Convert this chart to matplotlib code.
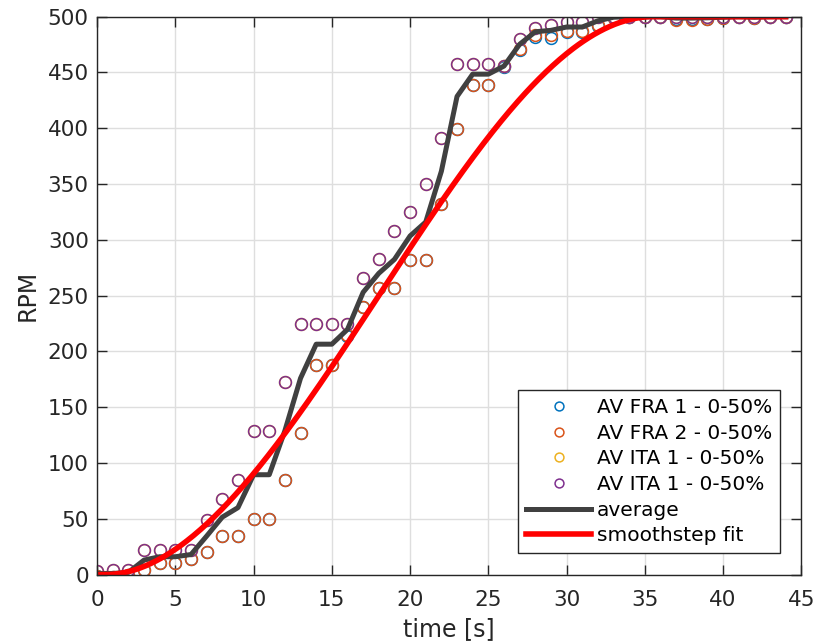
import numpy as np
import matplotlib
matplotlib.use('Agg')
import matplotlib.pyplot as plt

# tiempo en segundos
t = np.arange(0, 45)

# mediciones de RPM para cada ensayo
rpm_fra1 = [-1, -2, 0, 4, 10, 10, 14, 20, 35, 35, 50, 50, 85, 127, 188, 188, 214, 240, 257, 257,
            282, 282, 332, 399, 439, 439, 455, 470, 482, 481, 486, 486, 492, 499, 500, 500, 500, 498,
            498, 498, 499, 500, 499, 500, 500]
rpm_fra2 = [-1, -2, 0, 4, 10, 10, 14, 20, 35, 35, 50, 50, 85, 127, 188, 188, 215, 240, 257, 257,
            282, 282, 332, 399, 439, 439, 456, 471, 484, 484, 487, 487, 493, 499, 500, 500, 500, 497,
            497, 498, 499, 500, 499, 500, 500]
rpm_ita1 = [3, 4, 4, 22, 22, 22, 22, 49, 68, 85, 129, 129, 173, 225, 225, 225, 225, 266, 283, 308,
            325, 350, 391, 458, 458, 458, 456, 480, 490, 493, 495, 495, 500, 500, 500, 500, 500, 500,
            500, 500, 500, 500, 500, 500, 500]
rpm_ita2 = [3, 4, 4, 22, 22, 22, 22, 49, 68, 85, 129, 129, 173, 225, 225, 225, 225, 266, 283, 308,
            325, 350, 391, 458, 458, 458, 456, 480, 490, 493, 495, 495, 500, 500, 500, 500, 500, 500,
            500, 500, 500, 500, 500, 500, 500]

labels = ['AV FRA 1 - 0-50%', 'AV FRA 2 - 0-50%', 'AV ITA 1 - 0-50%', 'AV ITA 1 - 0-50%']
colores = [(0, 0.447, 0.741), (0.85, 0.325, 0.098), (0.929, 0.694, 0.125), (0.494, 0.184, 0.556)]

# parametros del ajuste smoothstep
rpm_max = 500
t_ini = 0.5
t_fin = 35.5

def smoothstep(x, a, t0, t1):
    u = np.clip((x - t0) / (t1 - t0), 0, 1)
    return a * (3 * u**2 - 2 * u**3)

datos = np.array([rpm_fra1, rpm_fra2, rpm_ita1, rpm_ita2], dtype=float)
promedio = datos.mean(axis=0)

t_fit = np.linspace(0, 44, 400)
y_fit = smoothstep(t_fit, rpm_max, t_ini, t_fin)

plt.rcParams['font.family'] = 'DejaVu Sans'
gris = (0.15, 0.15, 0.15)
fig = plt.figure(figsize=(8.16, 6.42), dpi=100)
ax = fig.add_axes([0.119, 0.105, 0.863, 0.869])

for serie, lab, col in zip(datos, labels, colores):
    ax.plot(t, serie, 'o', mfc='none', mec=col, ms=8.5, mew=1.1, label=lab)

ax.plot(t, promedio, color=(0.25, 0.25, 0.25), lw=3.6, label='average')
ax.plot(t_fit, y_fit, color='red', lw=4, label='smoothstep fit')

ax.set_xlim(0, 45)
ax.set_ylim(0, 500)
ax.set_xticks(np.arange(0, 46, 5))
ax.set_yticks(np.arange(0, 501, 50))
ax.grid(True, color=(0.87, 0.87, 0.87), lw=1)
ax.set_axisbelow(True)
ax.tick_params(direction='in', length=7, width=1, labelsize=15.5, colors=gris,
               top=True, right=True)
ax.tick_params(axis='x', pad=11)
ax.tick_params(axis='y', pad=6)
for s in ax.spines.values():
    s.set_color(gris)
    s.set_linewidth(1)

ax.set_xlabel('time [s]', fontsize=17, color=gris, labelpad=5)
ax.set_ylabel('RPM', fontsize=17, color=gris, labelpad=6)

leg = ax.legend(loc='lower right', fontsize=14.5, handlelength=3.2, fancybox=False, markerscale=0.75,
                borderaxespad=1.05, labelspacing=0.33, handletextpad=0.3, borderpad=0.4)
leg.get_frame().set_edgecolor(gris)
leg.get_frame().set_linewidth(1)
leg.get_frame().set_alpha(1)

fig.savefig('out.png', dpi=100)
